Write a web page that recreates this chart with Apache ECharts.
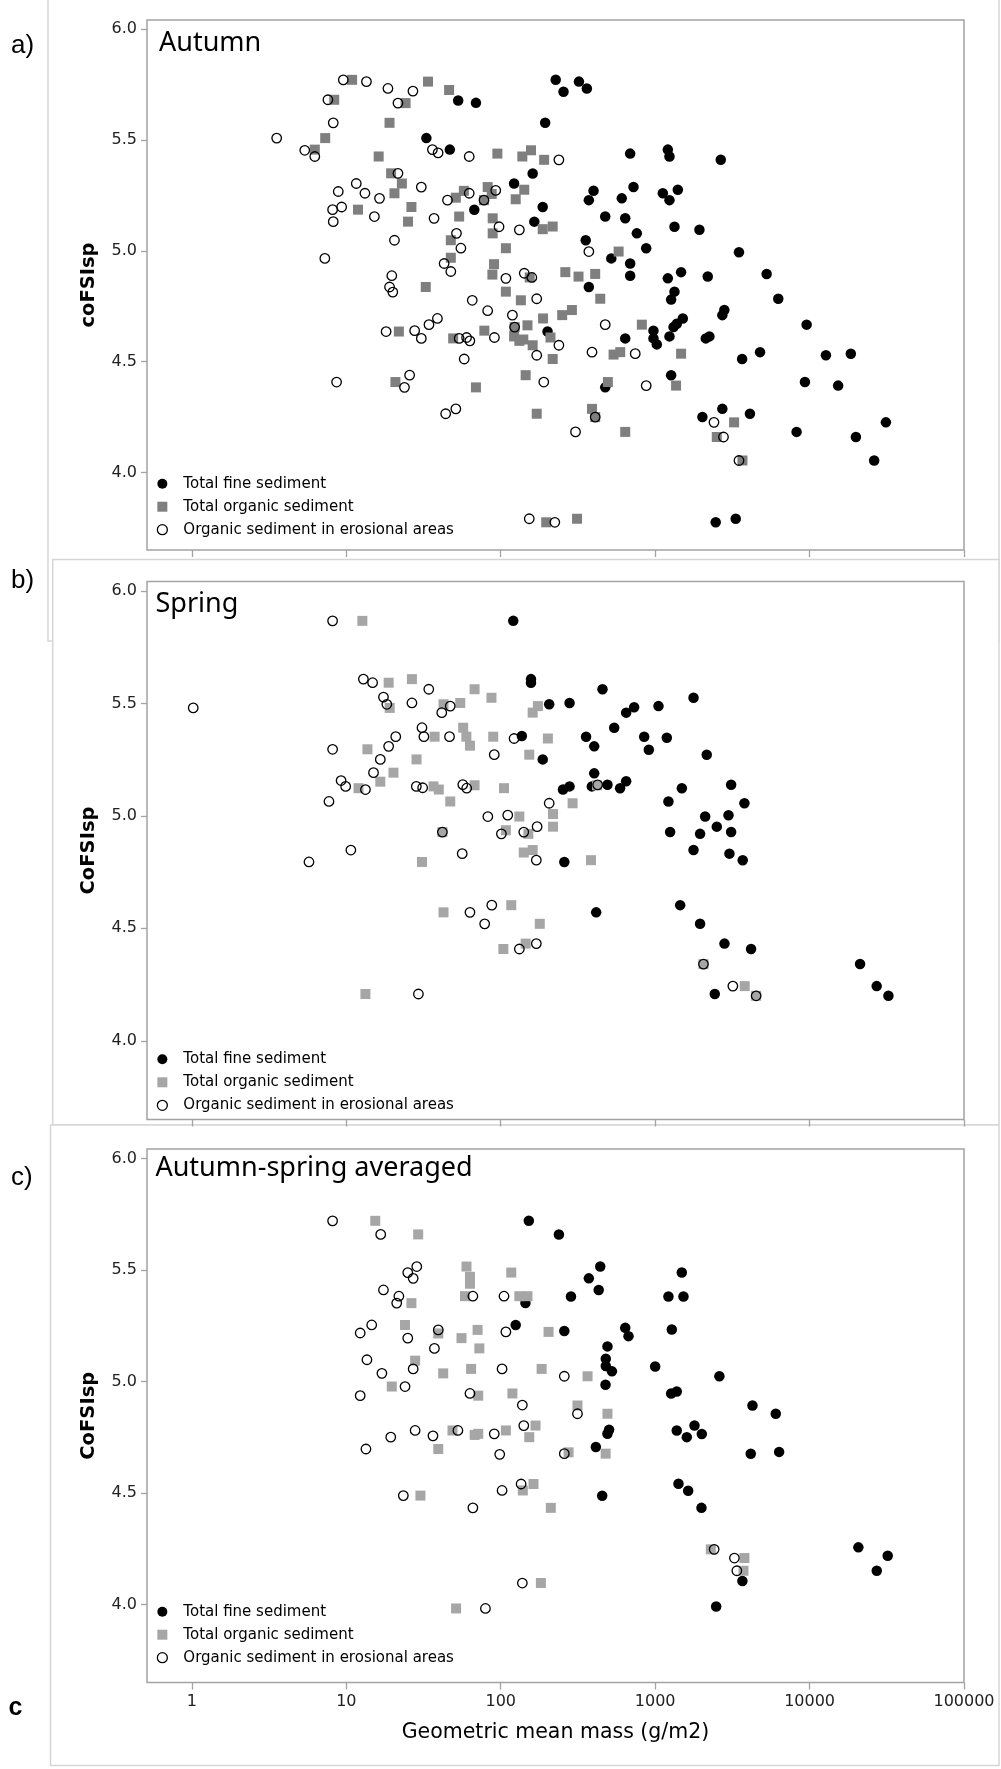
<!DOCTYPE html>
<html>
<head>
<meta charset="utf-8">
<script src="https://cdn.jsdelivr.net/npm/echarts@6/dist/echarts.min.js"></script>
<style>
html,body{margin:0;padding:0;background:#fff;}
#chart{width:1001px;height:1769px;}
</style>
</head>
<body>
<div id="chart"></div>
<script>
// ---------- data (x: geometric mean mass g/m2, y: coFSIsp) ----------
const xTicks = [1, 10, 100, 1000, 10000, 100000];
const yTicks = [4.0, 4.5, 5.0, 5.5, 6.0];
const seriesNames = ['Total fine sediment', 'Total organic sediment', 'Organic sediment in erosional areas'];
const panelTitles = ['Autumn', 'Spring', 'Autumn-spring averaged'];
const yAxisNames = ['coFSIsp', 'CoFSIsp', 'CoFSIsp'];
const xAxisName = 'Geometric mean mass (g/m2)';

const autumnFine = [[53,5.679],[69.1,5.668],[33,5.509],[46.8,5.457],[161,5.349],[122,5.304],[67.4,5.186],[187,5.198],[165,5.132],[194,5.578],[201,4.636],[227,5.772],[255,5.718],[321,5.764],[361,5.733],[689,5.439],[1208,5.457],[1238,5.426],[2660,5.411],[399,5.271],[372,5.229],[608,5.237],[724,5.288],[1121,5.26],[1238,5.229],[1402,5.276],[475,5.155],[640,5.147],[1334,5.109],[1935,5.095],[761,5.079],[355,5.048],[520,4.966],[875,5.012],[3490,4.994],[689,4.943],[689,4.888],[1208,4.876],[1472,4.904],[2191,4.884],[5272,4.896],[372,4.837],[6270,4.784],[1334,4.816],[1269,4.78],[2805,4.733],[2723,4.71],[1510,4.695],[1381,4.671],[1315,4.656],[975,4.64],[975,4.605],[1025,4.578],[1238,4.614],[640,4.605],[2128,4.605],[2245,4.614],[9570,4.667],[3657,4.512],[4777,4.543],[12760,4.529],[18500,4.536],[475,4.384],[1269,4.439],[9330,4.408],[15310,4.392],[2023,4.25],[2723,4.287],[4110,4.265],[8240,4.183],[19950,4.16],[31200,4.226],[26200,4.054],[2466,3.775],[3325,3.791]];
const autumnOrganic = [[10.9,5.772],[33.8,5.764],[46.3,5.726],[8.35,5.682],[24.2,5.667],[19.05,5.578],[7.3,5.509],[6.25,5.457],[16.2,5.426],[95.1,5.439],[138,5.426],[157,5.454],[191,5.411],[19.5,5.35],[22.9,5.304],[20.5,5.26],[142,5.276],[125,5.233],[51.2,5.24],[57.7,5.271],[82.3,5.288],[87.4,5.257],[77.9,5.229],[11.9,5.186],[26.4,5.198],[25.1,5.132],[53.8,5.155],[88.7,5.147],[187,5.098],[217,5.11],[88.7,5.079],[47.5,5.048],[108,5.012],[47.5,4.969],[90.5,4.94],[88.3,4.893],[154,4.88],[32.7,4.837],[108,4.816],[135,4.777],[149,4.664],[123,4.656],[188,4.695],[21.9,4.636],[49.2,4.605],[78.3,4.64],[122,4.614],[132,4.594],[140,4.6],[161,4.574],[210,4.609],[217,4.512],[20.8,4.408],[69.1,4.384],[145,4.439],[171,4.265],[197,3.775],[312,3.791],[580,4.997],[262,4.904],[319,4.884],[409,4.896],[441,4.784],[289,4.733],[250,4.71],[820,4.667],[538,4.532],[594,4.543],[1472,4.536],[494,4.408],[1366,4.392],[390,4.287],[409,4.25],[640,4.183],[3245,4.226],[2506,4.16],[3675,4.054]];
const autumnErosional = [[9.56,5.772],[13.5,5.764],[18.6,5.733],[27,5.721],[7.6,5.682],[21.6,5.667],[8.23,5.578],[3.54,5.509],[5.38,5.454],[6.25,5.426],[36.1,5.457],[39.3,5.442],[62.5,5.426],[238,5.411],[21.6,5.35],[11.6,5.304],[13.2,5.26],[8.87,5.268],[16.4,5.237],[30.6,5.288],[45.2,5.229],[62.5,5.26],[92.8,5.273],[77.9,5.229],[8.15,5.186],[9.33,5.198],[8.23,5.132],[15.2,5.155],[37,5.147],[97.5,5.109],[132,5.095],[51.7,5.079],[20.5,5.048],[55.2,5.012],[7.26,4.966],[43,4.943],[47.5,4.907],[108,4.876],[142,4.899],[159,4.88],[19.7,4.888],[19.05,4.837],[20,4.814],[65.4,4.777],[171,4.784],[82.3,4.73],[38.9,4.695],[34.3,4.667],[119,4.71],[123,4.656],[18.1,4.636],[27.7,4.64],[30.6,4.605],[53.8,4.605],[60.1,4.609],[63.1,4.594],[91,4.609],[238,4.574],[58,4.512],[171,4.529],[8.65,4.408],[25.7,4.439],[23.8,4.384],[190,4.408],[44,4.265],[51.2,4.287],[153,3.791],[224,3.775],[372,4.997],[475,4.667],[390,4.543],[743,4.536],[875,4.392],[409,4.25],[305,4.183],[2404,4.226],[2770,4.16],[3490,4.054]];

const springFine = [[120.5,5.867],[157,5.608],[157,5.592],[206,5.496],[137,5.355],[187,5.251],[456,5.563],[279,5.502],[649,5.459],[731,5.483],[1051,5.488],[1772,5.525],[543,5.392],[357,5.352],[403,5.309],[849,5.352],[1190,5.347],[910,5.294],[2158,5.272],[403,5.189],[253,5.117],[279,5.131],[389,5.131],[491,5.138],[593,5.123],[649,5.154],[1489,5.123],[3105,5.138],[1219,5.064],[3785,5.056],[2107,4.997],[2985,5.003],[2507,4.952],[1250,4.928],[1954,4.92],[3105,4.928],[1772,4.848],[3027,4.832],[3690,4.803],[258,4.795],[415,4.571],[1452,4.603],[1954,4.52],[2811,4.432],[4179,4.408],[2433,4.208],[21230,4.341],[27200,4.243],[32400,4.2]];
const springOrganic = [[12.7,5.867],[18.8,5.592],[26.6,5.608],[19.1,5.48],[42.6,5.496],[54.7,5.502],[67.7,5.563],[87.1,5.525],[161,5.459],[174,5.488],[37.3,5.352],[57.1,5.392],[59.9,5.352],[63.2,5.312],[89.4,5.352],[202,5.344],[13.7,5.296],[28.5,5.251],[153,5.272],[20.2,5.192],[12,5.123],[16.6,5.152],[36.7,5.131],[39.7,5.117],[67.7,5.136],[105,5.123],[47.1,5.064],[218,5.008],[218,4.952],[132,4.997],[108,4.936],[41.9,4.928],[151,4.92],[141,4.837],[161,4.848],[30.9,4.795],[42.6,4.571],[117,4.603],[179,4.52],[104,4.408],[145,4.432],[13.3,4.208],[292,5.056],[384,4.803],[420,5.136],[2055,4.341],[3802,4.243],[4508,4.2]];
const springErosional = [[1.02,5.48],[8.15,5.867],[12.9,5.608],[14.8,5.592],[34.2,5.563],[17.4,5.528],[18.3,5.496],[26.6,5.502],[41.5,5.459],[47.1,5.488],[30.9,5.392],[31.8,5.352],[46.6,5.352],[20.9,5.352],[18.8,5.309],[122,5.344],[8.15,5.296],[16.6,5.251],[90.8,5.272],[15,5.192],[9.25,5.157],[9.9,5.131],[13.3,5.117],[28.4,5.131],[31.2,5.125],[56.8,5.139],[60.2,5.123],[7.72,5.064],[206,5.056],[82.5,4.997],[111,5.003],[101,4.92],[41.9,4.928],[141,4.928],[172,4.952],[170,4.803],[10.7,4.848],[5.73,4.795],[56.3,4.832],[63.2,4.571],[87.5,4.603],[78.7,4.52],[132,4.408],[170,4.432],[29.3,4.208],[424,5.138],[2055,4.341],[3185,4.243],[4508,4.2]];

const avgFine = [[152,5.72],[238,5.659],[144.5,5.351],[125,5.253],[441,5.515],[372,5.462],[431,5.41],[285,5.381],[1488,5.488],[1219,5.381],[1525,5.381],[258,5.226],[640,5.24],[672,5.203],[1282,5.233],[491,5.157],[479,5.102],[479,5.069],[525,5.045],[477,4.985],[1000,5.067],[2606,5.023],[1270,4.946],[1380,4.955],[4267,4.892],[6040,4.855],[503,4.783],[491,4.765],[1380,4.78],[1798,4.802],[1603,4.75],[2005,4.764],[413,4.706],[4160,4.676],[6350,4.684],[454,4.487],[1416,4.541],[1636,4.51],[1995,4.433],[3673,4.105],[2483,3.991],[20700,4.256],[32060,4.218],[27230,4.151]];
const avgOrganic = [[15.4,5.72],[29.2,5.659],[60,5.515],[63.2,5.469],[63.2,5.438],[117,5.488],[26.4,5.351],[58.7,5.382],[132,5.382],[149,5.382],[24,5.253],[39.4,5.215],[55.7,5.194],[70.8,5.231],[72.7,5.148],[204,5.222],[27.9,5.093],[42.4,5.036],[64.3,5.056],[184,5.056],[19.7,4.977],[71.5,4.936],[119,4.946],[168,4.802],[48.7,4.78],[67.8,4.76],[71.5,4.765],[108,4.78],[153,4.75],[39.4,4.697],[30.2,4.488],[139,4.511],[163,4.54],[211,4.433],[182,4.096],[51.4,3.982],[365,5.023],[314,4.892],[491,4.855],[275,4.682],[478,4.676],[2293,4.247],[3785,4.208],[3733,4.151]];
const avgErosional = [[8.15,5.72],[16.7,5.659],[28.6,5.515],[25,5.488],[27.1,5.462],[17.4,5.41],[21.9,5.382],[21.2,5.351],[66,5.382],[105,5.382],[14.6,5.253],[12.3,5.217],[25,5.194],[39.4,5.231],[37.2,5.148],[108,5.222],[13.6,5.097],[27.1,5.056],[102,5.056],[17,5.036],[24,4.977],[12.3,4.936],[63.2,4.946],[138,4.894],[141,4.802],[27.9,4.78],[19.4,4.75],[36.4,4.756],[52.8,4.78],[90.8,4.765],[13.4,4.697],[98.5,4.673],[23.4,4.488],[66,4.433],[102,4.511],[135.5,4.54],[138,4.096],[79.6,3.982],[258,5.023],[314,4.855],[258,4.676],[2410,4.247],[3260,4.208],[3380,4.151]];

const panelData = [
  [autumnFine, autumnOrganic, autumnErosional],
  [springFine, springOrganic, springErosional],
  [avgFine, avgOrganic, avgErosional]
];

// ---------- layout / style ----------
const gridTops = [20, 581.5, 1149];
const gridHeights = [530, 538, 533.5];
const organicGray = ['#7f7f7f', '#a6a6a6', '#a6a6a6'];
const legendTops = [476.2, 1051.8, 1604.2];
const titleLeft = [154, 150.5, 150.4];
const titleTop = [25, 585.5, 1150];
const boxColor = '#a3a3a3';
const frameColor = '#d6d6d6';
const wideFont = 'DejaVu Sans';

const grids = [], xAxes = [], yAxes = [], series = [], legends = [], titles = [];
for (let i = 0; i < 3; i++) {
  grids.push({left: 147, top: gridTops[i], width: 817, height: gridHeights[i],
    show: true, borderColor: boxColor, borderWidth: 1.5, backgroundColor: 'rgba(0,0,0,0)',
    containLabel: false, outerBoundsMode: 'none'});
  xAxes.push({
    gridIndex: i, type: 'log', logBase: 10, min: 0.512, max: 100000,
    axisLine: {show: false},
    axisTick: {show: true, customValues: xTicks, length: 7, lineStyle: {color: boxColor, width: 1.3}},
    axisLabel: {show: i === 2, customValues: xTicks, formatter: v => String(Math.round(v)),
      fontFamily: wideFont, fontSize: 16, color: '#222', margin: 11},
    splitLine: {show: false},
    name: i === 2 ? xAxisName : '', nameLocation: 'middle', nameGap: 40,
    nameTextStyle: {fontFamily: wideFont, fontSize: 20.5, color: '#000'}
  });
  yAxes.push({
    gridIndex: i, type: 'value', min: 3.65, max: 6.042,
    axisLine: {show: false},
    axisTick: {show: true, customValues: yTicks, length: 6, lineStyle: {color: boxColor, width: 1.3}},
    axisLabel: {customValues: yTicks, formatter: v => v.toFixed(1),
      fontFamily: wideFont, fontSize: 16, color: '#222', margin: 10},
    splitLine: {show: false},
    name: yAxisNames[i], nameLocation: 'middle', nameGap: 48,
    nameTextStyle: {fontFamily: wideFont, fontSize: 19.5, fontWeight: 'bold', color: '#000'}
  });
  const [fine, organic, eros] = panelData[i];
  series.push({name: seriesNames[0], type: 'scatter', xAxisIndex: i, yAxisIndex: i, data: fine,
    symbol: 'circle', symbolSize: 10.5, itemStyle: {color: '#000', opacity: 1}, silent: true, z: 2});
  series.push({name: seriesNames[1], type: 'scatter', xAxisIndex: i, yAxisIndex: i, data: organic,
    symbol: 'rect', symbolSize: 10, itemStyle: {color: organicGray[i], opacity: 1}, silent: true, z: 3});
  series.push({name: seriesNames[2], type: 'scatter', xAxisIndex: i, yAxisIndex: i, data: eros,
    symbol: 'circle', symbolSize: 9.5,
    itemStyle: {color: 'rgba(0,0,0,0)', borderColor: '#000', borderWidth: 1.3, opacity: 1}, silent: true, z: 4});
  legends.push({
    left: 156.7, top: legendTops[i], orient: 'vertical', padding: 0,
    itemWidth: 10, itemHeight: 10, itemGap: 8, selectedMode: false,
    textStyle: {fontFamily: wideFont, fontSize: 15, color: '#000', lineHeight: 15, padding: [0, 0, 0, 11]},
    data: [
      {name: seriesNames[0], icon: 'circle', itemStyle: {color: '#000'}},
      {name: seriesNames[1], icon: 'rect', itemStyle: {color: organicGray[i]}},
      {name: seriesNames[2], icon: 'circle', itemStyle: {color: 'rgba(0,0,0,0)', borderColor: '#000', borderWidth: 1.3}}
    ]
  });
  titles.push({text: panelTitles[i], left: titleLeft[i], top: titleTop[i],
    textStyle: {fontFamily: 'Noto Sans', fontSize: 27, fontWeight: 'normal', color: '#000', lineHeight: 27}});
}

const chart = echarts.init(document.getElementById('chart'), null, {renderer: 'canvas'});
chart.setOption({
  backgroundColor: '#fff',
  animation: false,
  title: titles,
  legend: legends,
  grid: grids,
  xAxis: xAxes,
  yAxis: yAxes,
  series: series,
  graphic: {elements: [
    {type: 'rect', z: -10, silent: true, shape: {x: 48, y: -1, width: 951, height: 642}, style: {fill: '#fff', stroke: frameColor, lineWidth: 1.5}},
    {type: 'rect', z: -9, silent: true, shape: {x: 52.7, y: 559.5, width: 946.3, height: 565.5}, style: {fill: '#fff', stroke: frameColor, lineWidth: 1.5}},
    {type: 'rect', z: -8, silent: true, shape: {x: 50.5, y: 1125, width: 948.5, height: 640.6}, style: {fill: '#fff', stroke: frameColor, lineWidth: 1.5}},
    {type: 'text', x: 11, y: 46, silent: true, style: {text: 'a)', font: '26px "Liberation Sans"', fill: '#000', verticalAlign: 'middle'}},
    {type: 'text', x: 11, y: 581, silent: true, style: {text: 'b)', font: '26px "Liberation Sans"', fill: '#000', verticalAlign: 'middle'}},
    {type: 'text', x: 11, y: 1178, silent: true, style: {text: 'c)', font: '26px "Liberation Sans"', fill: '#000', verticalAlign: 'middle'}},
    {type: 'text', x: 8.5, y: 1708, silent: true, style: {text: 'c', font: 'bold 25px "Liberation Sans"', fill: '#000', verticalAlign: 'middle'}}
  ]}
});
</script>
</body>
</html>
